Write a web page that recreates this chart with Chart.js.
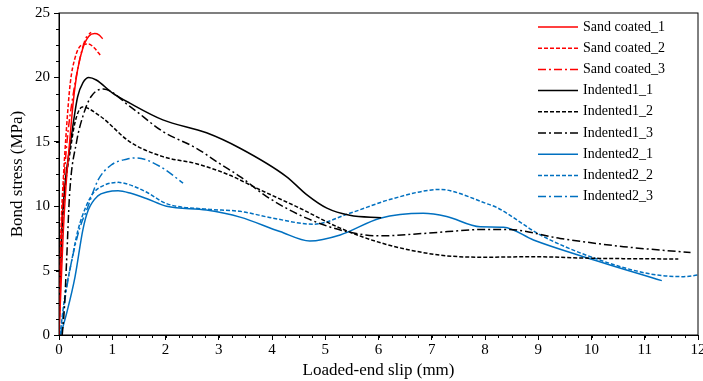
<!DOCTYPE html>
<html>
<head>
<meta charset="utf-8">
<script src="https://cdn.jsdelivr.net/npm/chart.js@4.4.0/dist/chart.umd.min.js"></script>
<style>
  html, body { margin: 0; padding: 0; background: #fff; }
  #wrap { width: 703px; height: 381px; position: relative; }
</style>
</head>
<body>
<div id="wrap"><canvas id="bond-chart"></canvas></div>
<script>
// series data: [slip (mm), bond stress (MPa)]
const sandCoated1 = [[0,0],[0.04,4],[0.08,8],[0.13,11.5],[0.2,15],[0.27,18.2],[0.35,20.6],[0.45,22.3],[0.56,23.2],[0.67,23.4],[0.75,23.3],[0.82,23.0]];
const sandCoated2 = [[0,0],[0.02,5],[0.04,8.5],[0.08,12],[0.14,16],[0.21,19.5],[0.3,21.5],[0.42,22.5],[0.55,22.6],[0.66,22.3],[0.78,21.7]];
const sandCoated3 = [[0,0],[0.03,6],[0.08,11],[0.15,15],[0.26,18.5],[0.39,21.4],[0.5,23],[0.6,23.5]];
const indented1_1 = [[0,0],[0.02,4],[0.05,8],[0.12,12],[0.2,14.5],[0.27,16.5],[0.35,18.5],[0.45,19.6],[0.56,20.0],[0.7,19.8],[1.0,18.8],[1.33,18.0],[1.95,16.7],[2.77,15.7],[3.4,14.5],[4.27,12.3],[4.65,10.9],[5.03,9.85],[5.46,9.3],[6.05,9.1]];
const indented1_2 = [[0,0],[0.03,5],[0.07,9],[0.13,12],[0.2,14],[0.3,16.5],[0.44,17.7],[0.77,17.0],[1.33,15.0],[1.95,13.85],[2.58,13.3],[3.21,12.4],[3.71,11.4],[4.52,9.85],[5.28,8.3],[6.09,7.1],[7.16,6.2],[8.03,6.04],[8.9,6.08],[9.98,5.96],[11.63,5.9]];
const indented1_3 = [[0.06,0],[0.1,2],[0.14,5.5],[0.2,11],[0.33,15],[0.45,17],[0.6,18.5],[0.83,19.1],[1.33,17.75],[1.95,15.8],[2.58,14.5],[3.02,13.3],[3.4,12.3],[3.9,10.75],[4.65,9.07],[5.4,8.03],[6.03,7.7],[6.9,7.9],[8.03,8.2],[8.41,8.2],[9.41,7.5],[10.6,6.86],[11.86,6.4]];
const indented2_1 = [[0.03,0],[0.15,1.8],[0.3,4.5],[0.45,8.2],[0.55,9.7],[0.73,10.8],[0.9,11.1],[1.11,11.2],[1.35,11.0],[1.64,10.6],[2.02,10.0],[2.77,9.7],[3.4,9.15],[4.15,8.03],[4.71,7.3],[5.28,7.77],[6.03,9.07],[6.84,9.45],[7.28,9.2],[7.91,8.4],[8.35,8.37],[8.91,7.38],[9.85,6.08],[11.32,4.22]];
const indented2_2 = [[0.02,0],[0.11,3.0],[0.23,5.6],[0.36,8.2],[0.5,9.9],[0.64,11.0],[0.86,11.65],[1.11,11.85],[1.3,11.7],[1.64,11.1],[2.02,10.2],[2.77,9.77],[3.4,9.6],[4.02,9.07],[4.78,8.6],[5.46,9.45],[6.28,10.6],[7.16,11.3],[7.35,11.2],[8.03,10.2],[8.22,9.9],[9.04,7.77],[9.98,6.08],[11.1,4.74],[11.73,4.53],[12.0,4.66]];
const indented2_3 = [[0.03,0],[0.12,3.0],[0.24,5.8],[0.39,8.3],[0.52,9.7],[0.73,12.0],[0.98,13.2],[1.27,13.65],[1.45,13.75],[1.89,13.1],[2.33,11.8]];

const seriesNames = ['Sand coated_1', 'Sand coated_2', 'Sand coated_3', 'Indented1_1', 'Indented1_2', 'Indented1_3', 'Indented2_1', 'Indented2_2', 'Indented2_3'];
const seriesData = [sandCoated1, sandCoated2, sandCoated3, indented1_1, indented1_2, indented1_3, indented2_1, indented2_2, indented2_3];
const xTicks = [0, 1, 2, 3, 4, 5, 6, 7, 8, 9, 10, 11, 12];
const yTicks = [0, 5, 10, 15, 20, 25];

const RED = '#ff0000', BLACK = '#000000', BLUE = '#0070c0';
const colors = [RED, RED, RED, BLACK, BLACK, BLACK, BLUE, BLUE, BLUE];
const SOLID = [], DASH = [4, 2], DASHDOT = [8, 3, 2, 3];
const dashes = [SOLID, DASH, DASHDOT, SOLID, DASH, DASHDOT, SOLID, DASH, DASHDOT];
const FONT = "'Liberation Serif', 'DejaVu Serif', serif";

const datasets = seriesNames.map((name, i) => ({
    label: name,
    data: seriesData[i].map(p => ({ x: p[0], y: p[1] })),
    borderColor: colors[i],
    borderDash: dashes[i],
    borderWidth: 1.5,
    pointRadius: 0,
    showLine: true,
    fill: false,
    cubicInterpolationMode: 'monotone'
}));

// frame, minor ticks and in-plot legend
const extras = {
    id: 'extras',
    afterDraw(chart) {
        const { ctx, chartArea: a, scales } = chart;
        ctx.save();
        ctx.strokeStyle = '#000';
        ctx.lineWidth = 1;
        ctx.strokeRect(a.left, a.top, a.right - a.left, a.bottom - a.top);

        ctx.beginPath();
        for (let v = 0; v <= 12.001; v += 0.25) {
            const px = Math.round(scales.x.getPixelForValue(v)) + 0.5;
            ctx.moveTo(px, a.bottom);
            ctx.lineTo(px, a.bottom + 3);
        }
        for (let v = 0; v <= 25.001; v += 1.25) {
            const py = Math.round(scales.y.getPixelForValue(v)) + 0.5;
            ctx.moveTo(a.left, py);
            ctx.lineTo(a.left - 3, py);
        }
        ctx.stroke();

        ctx.font = '14px ' + FONT;
        ctx.textBaseline = 'middle';
        ctx.fillStyle = '#000';
        chart.data.datasets.forEach((ds, i) => {
            const y = 27 + i * 21.2;
            ctx.beginPath();
            ctx.strokeStyle = ds.borderColor;
            ctx.lineWidth = 1.5;
            ctx.setLineDash(ds.borderDash);
            ctx.moveTo(538, y);
            ctx.lineTo(578, y);
            ctx.stroke();
            ctx.setLineDash([]);
            ctx.fillText(ds.label, 583, y);
        });
        ctx.restore();
    }
};

const chart = new Chart(document.getElementById('bond-chart').getContext('2d'), {
    type: 'scatter',
    data: { datasets: datasets },
    options: {
        responsive: true,
        maintainAspectRatio: false,
        animation: false,
        layout: { padding: { top: 13, right: 5, left: 7, bottom: 0 } },
        plugins: {
            legend: { display: false },
            tooltip: { enabled: false }
        },
        scales: {
            x: {
                type: 'linear',
                min: 0,
                max: 12,
                afterBuildTicks: s => { s.ticks = xTicks.map(v => ({ value: v })); },
                grid: { drawOnChartArea: false, drawTicks: true, tickLength: 5, color: '#000' },
                border: { display: true, color: '#000', width: 1 },
                ticks: { color: '#000', font: { family: FONT, size: 15 }, padding: 1, maxRotation: 0 },
                title: { display: true, text: 'Loaded-end slip (mm)', color: '#000', font: { family: FONT, size: 17 }, padding: { top: 0, bottom: 0 } },
                afterFit: s => { s.height = 46; s.paddingRight = 0; s.paddingLeft = 0; }
            },
            y: {
                type: 'linear',
                min: 0,
                max: 25,
                afterBuildTicks: s => { s.ticks = yTicks.map(v => ({ value: v })); },
                grid: { drawOnChartArea: false, drawTicks: true, tickLength: 5, color: '#000' },
                border: { display: true, color: '#000', width: 1 },
                ticks: { color: '#000', font: { family: FONT, size: 15 }, padding: 4 },
                title: { display: true, text: 'Bond stress (MPa)', color: '#000', font: { family: FONT, size: 17 }, padding: { top: 0, bottom: 2 } },
                afterFit: s => { s.width = 52; s.paddingTop = 0; s.paddingBottom = 0; }
            }
        }
    },
    plugins: [extras]
});
</script>
</body>
</html>
